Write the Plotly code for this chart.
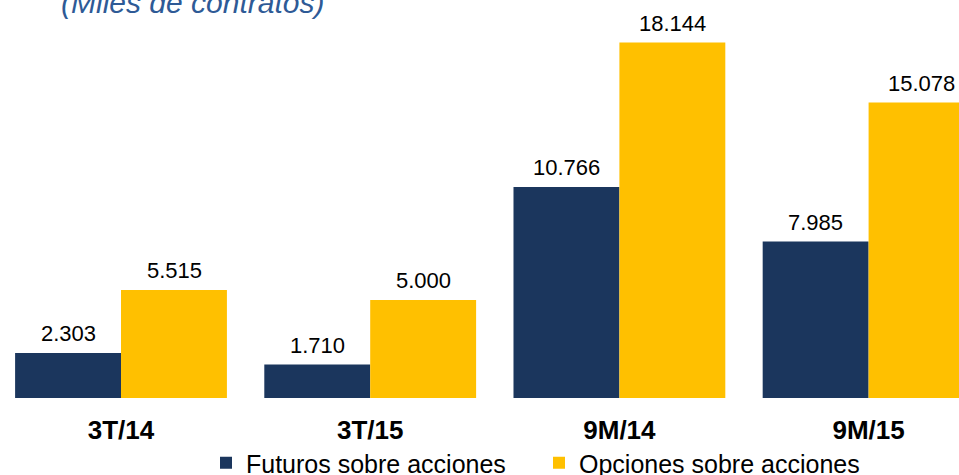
import plotly.graph_objects as go

categories = ["3T/14", "3T/15", "9M/14", "9M/15"]
futuros = [2303, 1710, 10766, 7985]
opciones = [5515, 5000, 18144, 15078]
series_names = ["Futuros sobre acciones", "Opciones sobre acciones"]
title_text = "(Miles de contratos)"

NAVY = "#1B365D"
GOLD = "#FFC000"
FONT = "Liberation Sans, Arial, sans-serif"
PLOT_H = 398

fig = go.Figure()
for name, vals, col in [(series_names[0], futuros, NAVY), (series_names[1], opciones, GOLD)]:
    fig.add_trace(go.Bar(
        x=categories, y=vals, name=name,
        marker=dict(color=col, line=dict(width=0)),
        cliponaxis=False,
    ))


def fmt(v):
    return f"{v:,.0f}".replace(",", ".")


for vals, shift in [(futuros, -53), (opciones, 53)]:
    for c, v in zip(categories, vals):
        fig.add_annotation(
            x=c, y=v, xref="x", yref="y", text=fmt(v),
            xshift=shift, yshift=5, yanchor="bottom", showarrow=False,
            font=dict(family=FONT, size=22, color="#000000"),
        )

fig.add_annotation(
    text=title_text, xref="paper", yref="paper",
    x=59 / 959, y=1 - 2 / PLOT_H, xanchor="left", yanchor="middle",
    showarrow=False,
    font=dict(family=FONT, size=30, color="#2E5A96", style="italic"),
)

fig.update_layout(
    width=959, height=475,
    margin=dict(l=0, r=0, t=0, b=475 - PLOT_H, autoexpand=False),
    paper_bgcolor="white", plot_bgcolor="white",
    barmode="group", bargap=0.15, bargroupgap=0,
    showlegend=True,
    legend=dict(
        orientation="h", x=206 / 959, y=1 - 463 / PLOT_H,
        xanchor="left", yanchor="middle",
        font=dict(family=FONT, size=25, color="#000000"),
        entrywidth=288, entrywidthmode="pixels",
        bgcolor="rgba(0,0,0,0)",
    ),
    xaxis=dict(
        range=[-0.4856, 3.3628], showgrid=False, zeroline=False, showline=False,
        ticks="", tickfont=dict(family=FONT, size=26, color="#000000", weight="bold"),
        ticklabelstandoff=14,
    ),
    yaxis=dict(
        range=[0, 20316], visible=False, showgrid=False, zeroline=False,
    ),
)

fig.write_html(
    "out.html",
    config={"displayModeBar": False},
    post_script="document.body.style.margin='0';document.body.style.overflow='hidden';",
)
